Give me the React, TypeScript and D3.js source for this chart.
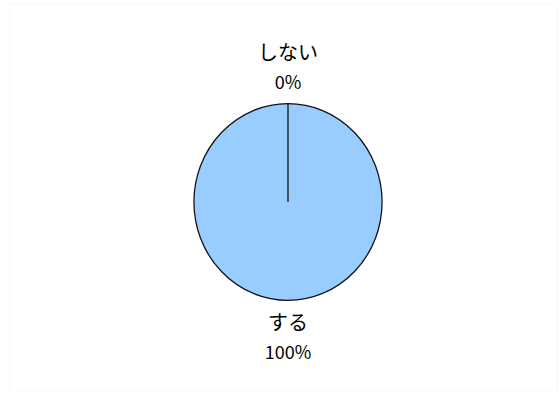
import React from "react";
import * as d3 from "d3";

const categories = ["する", "しない"];
const values = [100, 0];
const percentLabels = ["100%", "0%"];

export default function App() {
  const W = 560, H = 396;
  const cx = 288, cy = 202, r = 96;
  const pie = d3.pie<number>().sort(null).value((d) => d)(values);
  const arc = d3.arc<d3.PieArcDatum<number>>().innerRadius(0).outerRadius(r);
  return (
    <svg width={W} height={H} style={{ position: "absolute", left: 0, top: 0 }}>
      <rect x={0} y={0} width={W} height={H} fill="#ffffff" />
      <rect x={9.5} y={4.5} width={548} height={386} fill="none" stroke="#f7f7f7" />
      <g transform={`translate(${cx},${cy}) scale(0.98,1.025)`}>
        {pie.map((p, i) => (
          <path key={i} d={arc(p) || ""} fill="#99ccff" stroke="#111" strokeWidth={1.3} />
        ))}
      </g>
      {pie.map((p, i) => {
        const mid = (p.startAngle + p.endAngle) / 2;
        const up = Math.cos(mid) > 0;
        const x = cx + Math.sin(mid) * 0;
        const y0 = up ? 55 : 325;
        return (
          <g key={"l" + i} fontFamily="'Noto Sans CJK JP', sans-serif" fill="#000" textAnchor="middle">
            <text x={x} y={y0} fontSize={20} dominantBaseline="middle">{categories[i]}</text>
            <text x={x} y={y0 + 29} fontSize={18} dominantBaseline="middle">{percentLabels[i]}</text>
          </g>
        );
      })}
    </svg>
  );
}
